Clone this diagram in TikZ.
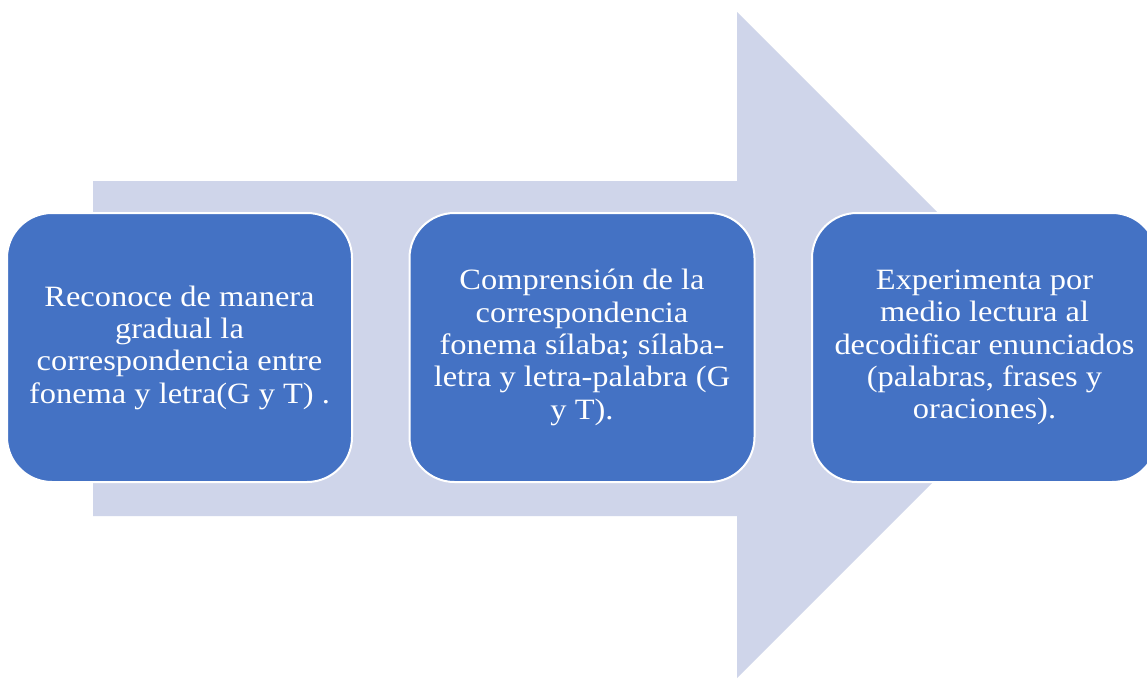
\documentclass[tikz,border=0pt]{standalone}
\usepackage{fontspec}
\setmainfont[FakeStretch=1.1]{Liberation Serif}
\definecolor{arrowfill}{HTML}{CFD5EA}
\definecolor{boxfill}{HTML}{4472C4}
\begin{document}
\begin{tikzpicture}[x=1pt,y=-1pt,
  stepbox/.style={draw=white, line width=2pt, fill=boxfill, rounded corners=45pt,
    minimum width=345pt, minimum height=269pt, inner sep=0pt,
    text=white, align=center, font=\fontsize{29.5}{32.3}\selectfont}]
\useasboundingbox (0,0) rectangle (1147,678);
\clip (0,0) rectangle (1147,678);
\fill[white] (0,0) rectangle (1147,678);
\fill[arrowfill] (93,181) -- (737,181) -- (737,12) -- (1070,345) -- (737,678) -- (737,516) -- (93,516) -- cycle;
\node[stepbox] (b1) at (179.5,347.5) {Reconoce de manera\\gradual la\\correspondencia entre\\fonema y letra(G y T) .};
\node[stepbox] (b2) at (582,347.5) {Comprensión de la\\correspondencia\\fonema sílaba; sílaba-\\letra y letra-palabra (G\\y T).};
\node[stepbox] (b3) at (984.5,347.5) {Experimenta por\\medio lectura al\\decodificar enunciados\\(palabras, frases y\\oraciones).};
\end{tikzpicture}
\end{document}
